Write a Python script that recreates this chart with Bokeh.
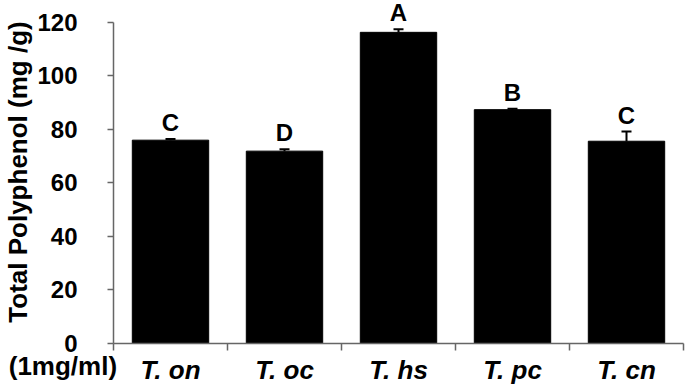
from bokeh.plotting import figure
from bokeh.models import ColumnDataSource, FixedTicker, LinearAxis, Whisker, TeeHead
from bokeh.core.properties import value
from bokeh.embed import file_html
from bokeh.resources import INLINE

categories = ["T. on", "T. oc", "T. hs", "T. pc", "T. cn"]
values = [76.0, 71.9, 116.3, 87.4, 75.6]
errors = [0.4, 0.7, 1.2, 0.3, 3.6]
letters = ["C", "D", "A", "B", "C"]
y_ticks = [0, 20, 40, 60, 80, 100, 120]
conc_label = "(1mg/ml)"
y_title = "Total Polyphenol (mg /g)"

n = len(categories)
xs = [i + 0.5 for i in range(n)]
bounds_x = list(range(n + 1))
tops = [v + e for v, e in zip(values, errors)]
src = ColumnDataSource(dict(x=xs, v=values, top=tops, lab=letters))

FONT = "Liberation Sans"
AX = "#666666"
NBSP = "\u00a0"

p = figure(width=691, height=392, x_range=(0, n), y_range=(0, 128.2),
           output_backend="svg", toolbar_location=None,
           min_border_left=108, min_border_right=8, min_border_top=0, min_border_bottom=49)
p.outline_line_color = None
p.grid.grid_line_color = None
p.background_fill_color = "white"

p.vbar(x="x", top="v", width=0.67, bottom=0, source=src, fill_color="black", line_color="black")
p.add_layout(Whisker(base="x", upper="top", lower="v", source=src, dimension="height",
                     line_color="black", line_width=2, lower_head=None,
                     upper_head=TeeHead(size=10, line_color="black", line_width=2)))

p.text(x="x", y="top", text="lab", source=src, text_align="center", text_baseline="bottom",
       y_offset=-3, text_font=value(FONT), text_font_style="bold", text_font_size="24px",
       text_color="black")

# y axis
p.yaxis.ticker = FixedTicker(ticks=y_ticks)
p.yaxis.bounds = (0, 120)
p.yaxis.axis_label = y_title
p.yaxis.axis_label_text_font = FONT
p.yaxis.axis_label_text_font_style = "bold"
p.yaxis.axis_label_text_font_size = "26px"
p.yaxis.axis_label_text_color = "black"
p.yaxis.axis_label_standoff = 1
p.yaxis.major_label_text_font = FONT
p.yaxis.major_label_text_font_style = "bold"
p.yaxis.major_label_text_font_size = "24px"
p.yaxis.major_label_text_color = "black"
p.yaxis.major_label_standoff = 30
p.yaxis.major_tick_in = 0
p.yaxis.major_tick_out = 6
p.yaxis.minor_tick_line_color = None
p.yaxis.axis_line_color = AX
p.yaxis.major_tick_line_color = AX
p.yaxis.axis_line_width = 1.5
p.yaxis.major_tick_line_width = 1.5

# first x axis: axis line, boundary ticks and the concentration note (left of the axis start)
xa = p.xaxis[0]
xa.ticker = FixedTicker(ticks=[0], minor_ticks=bounds_x)
xa.major_label_overrides = {0: conc_label + NBSP * 14}
xa.major_tick_line_color = None
xa.major_tick_in = 0
xa.major_tick_out = 7
xa.minor_tick_in = 0
xa.minor_tick_out = 7
xa.minor_tick_line_color = AX
xa.minor_tick_line_width = 1.5
xa.axis_line_color = AX
xa.axis_line_width = 1.5
xa.major_label_text_font = FONT
xa.major_label_text_font_style = "bold"
xa.major_label_text_font_size = "26px"
xa.major_label_text_color = "black"
xa.major_label_standoff = 0

# second x axis: category names, pulled up to the same row
xc = LinearAxis(ticker=FixedTicker(ticks=xs),
                major_label_overrides={x: c for x, c in zip(xs, categories)})
xc.axis_line_color = None
xc.major_tick_line_color = None
xc.minor_tick_line_color = None
xc.major_tick_in = 0
xc.major_tick_out = 0
xc.minor_tick_in = 0
xc.minor_tick_out = 0
xc.major_label_text_font = FONT
xc.major_label_text_font_style = "bold italic"
xc.major_label_text_font_size = "26px"
xc.major_label_text_color = "black"
xc.major_label_standoff = -29
p.add_layout(xc, "below")

open("out.html", "w").write(file_html(p, INLINE))
